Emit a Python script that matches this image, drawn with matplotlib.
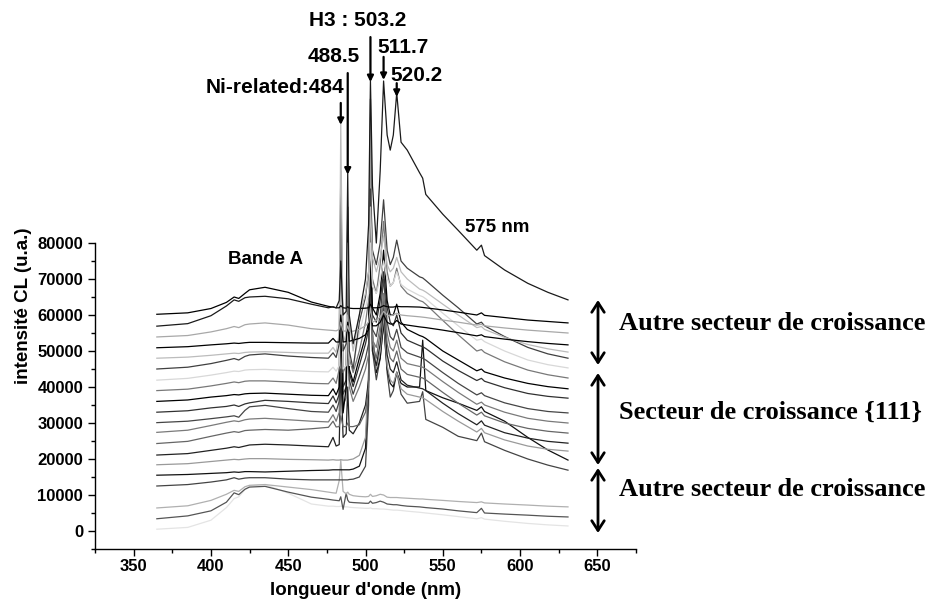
import matplotlib

matplotlib.use("Agg")
import matplotlib.pyplot as plt
from matplotlib.ticker import MultipleLocator

plt.rcParams["font.family"] = ["Liberation Sans", "DejaVu Sans"]
plt.rcParams["font.weight"] = "bold"

# wavelength grid (nm) shared by every spectrum
WAVELENGTH = [
    365, 385, 400, 410, 415, 418, 422, 425, 435, 450,
    465, 476, 479, 481, 483, 484, 485.5, 487.5, 488.5, 489.5,
    492, 496, 500, 502, 503.2, 504.5, 507, 509.5, 511.7, 514,
    516, 518, 520.2, 523, 527, 535, 537, 539, 550, 560,
    572, 575, 577, 590, 605, 618, 631,
]

# CL intensities, in thousands of counts (top to bottom)
SPEC_01 = [
    60.2, 60.6, 61.8, 63.5, 65.0, 64.6, 66.0, 67.0, 67.7, 66.3,
    63.6, 62.4, 62.2, 62.0, 62.0, 62.6, 62.0, 61.9, 62.3, 61.9,
    61.8, 61.8, 61.9, 62.0, 63.0, 62.0, 62.0, 62.1, 62.6, 62.3,
    62.2, 62.2, 62.4, 62.3, 62.3, 62.2, 62.1, 62.0, 61.4, 60.8,
    60.0, 60.6, 59.9, 59.3, 58.6, 58.2, 57.8,
]
SPEC_02 = [
    56.9, 57.6, 59.8, 62.5, 64.2, 63.8, 64.8, 65.0, 65.2, 64.5,
    63.0, 62.0, 62.3, 62.0, 64.0, 75.0, 60.0, 61.0, 99.4, 60.0,
    52.0, 60.0, 70.0, 85.0, 125.0, 96.0, 80.0, 100.0, 125.0, 110.0,
    105.8, 110.0, 121.7, 108.0, 105.8, 99.5, 98.0, 93.5, 88.0, 83.5,
    78.0, 79.4, 76.5, 72.5, 68.8, 66.3, 64.2,
]
SPEC_03 = [
    53.9, 54.3, 55.3, 56.2, 56.8, 56.5, 57.3, 57.5, 57.8, 57.2,
    56.2, 55.8, 55.7, 55.6, 56.0, 58.0, 55.6, 55.5, 57.0, 55.5,
    55.5, 56.0, 57.0, 58.0, 62.0, 58.0, 58.5, 59.5, 61.0, 60.0,
    59.8, 60.0, 60.5, 60.0, 59.8, 59.5, 59.4, 59.3, 58.6, 58.0,
    57.2, 57.4, 57.0, 56.4, 55.8, 55.4, 55.0,
]
SPEC_04 = [
    50.9, 51.2, 51.7, 52.0, 52.2, 52.1, 52.3, 52.4, 52.4, 52.3,
    52.2, 52.2, 53.5, 52.5, 52.5, 60.0, 52.5, 52.6, 58.0, 52.7,
    53.0, 53.5, 54.5, 56.0, 62.0, 57.0, 57.0, 58.0, 60.0, 58.0,
    57.5, 57.5, 58.5, 57.5, 57.2, 56.7, 56.6, 56.5, 55.8, 55.1,
    54.2, 54.5, 54.0, 53.3, 52.6, 52.1, 51.7,
]
SPEC_05 = [
    48.0, 48.3, 48.8, 49.2, 49.4, 49.3, 49.6, 49.7, 49.8, 49.6,
    49.4, 49.4, 51.0, 49.6, 55.0, 113.0, 52.0, 55.0, 80.0, 58.0,
    50.0, 60.0, 66.0, 72.0, 90.0, 76.0, 72.0, 76.0, 82.0, 74.0,
    72.0, 73.0, 76.0, 72.0, 70.0, 67.2, 66.9, 66.4, 63.0, 60.0,
    56.5, 56.8, 56.0, 53.8, 51.8, 50.6, 49.7,
]
SPEC_06 = [
    45.0, 45.5, 46.5, 47.4, 47.9, 47.5, 48.5, 48.9, 49.2, 48.6,
    48.2, 48.0, 49.5, 48.2, 52.0, 100.0, 50.0, 52.0, 75.0, 50.0,
    45.0, 58.0, 65.0, 72.0, 95.0, 78.0, 74.0, 80.0, 92.0, 78.0,
    74.0, 76.0, 80.8, 75.0, 73.0, 70.6, 70.3, 69.6, 65.5, 62.0,
    57.5, 58.0, 57.0, 54.0, 51.0, 49.2, 48.0,
]
SPEC_07 = [
    41.9, 42.4, 43.3, 44.0, 44.4, 44.3, 44.7, 44.8, 44.9, 44.6,
    44.3, 44.2, 45.5, 44.4, 46.0, 70.0, 45.0, 46.0, 60.0, 46.0,
    46.0, 55.0, 62.0, 66.0, 80.0, 68.0, 66.0, 70.0, 75.0, 70.0,
    68.0, 69.0, 72.0, 68.5, 67.2, 65.4, 65.1, 64.5, 60.5, 57.0,
    53.0, 53.3, 52.6, 50.0, 47.5, 46.2, 45.3,
]
SPEC_08 = [
    39.0, 39.4, 40.3, 41.0, 41.4, 41.2, 41.6, 41.7, 41.7, 41.4,
    41.0, 40.9, 42.5, 41.0, 45.0, 95.0, 44.0, 46.0, 70.0, 48.0,
    44.0, 50.0, 58.0, 64.0, 88.0, 70.0, 66.0, 74.0, 86.0, 72.0,
    68.0, 69.0, 73.0, 68.0, 66.0, 64.0, 63.7, 63.0, 58.5, 54.5,
    50.0, 50.4, 49.6, 47.0, 44.7, 43.4, 42.5,
]
SPEC_09 = [
    36.0, 36.4, 37.2, 37.6, 37.9, 37.8, 38.1, 38.2, 38.3, 38.0,
    37.7, 37.6, 39.5, 37.8, 40.0, 60.0, 32.8, 40.0, 90.0, 45.0,
    41.4, 48.0, 54.0, 58.0, 75.0, 62.0, 60.0, 66.0, 78.0, 64.0,
    60.0, 60.0, 63.0, 58.0, 56.0, 54.3, 54.0, 53.5, 50.0, 47.5,
    44.5, 45.0, 44.2, 42.5, 41.0, 40.1, 39.5,
]
SPEC_10 = [
    33.0, 33.4, 34.2, 34.6, 35.0, 34.6, 35.3, 35.6, 36.3, 36.0,
    35.6, 35.4, 37.5, 35.6, 38.0, 85.0, 40.0, 42.0, 65.0, 44.0,
    40.1, 46.0, 52.0, 56.0, 70.0, 60.0, 58.0, 64.0, 72.0, 62.0,
    58.0, 57.0, 60.0, 55.0, 53.0, 51.5, 51.2, 50.7, 47.2, 44.6,
    41.8, 42.4, 41.6, 39.8, 38.2, 37.4, 36.9,
]
SPEC_11 = [
    30.1, 30.5, 31.2, 31.7, 32.0, 31.6, 33.5, 34.5, 34.9, 34.0,
    33.2, 33.0, 35.0, 33.2, 36.0, 80.0, 38.0, 40.0, 60.0, 42.0,
    38.0, 43.0, 48.0, 52.0, 68.0, 56.0, 54.0, 60.0, 70.0, 58.0,
    54.0, 53.0, 56.0, 51.0, 49.5, 48.3, 48.0, 47.5, 44.0, 41.0,
    37.8, 38.4, 37.6, 35.6, 34.0, 33.2, 32.8,
]
SPEC_12 = [
    27.4, 28.0, 29.3, 30.2, 30.6, 30.4, 30.9, 31.1, 31.3, 30.9,
    30.5, 30.3, 32.3, 30.5, 33.0, 70.0, 35.0, 37.0, 55.0, 40.0,
    36.0, 40.0, 45.0, 49.0, 64.0, 53.0, 51.0, 57.0, 66.0, 55.0,
    51.0, 50.0, 53.0, 48.0, 46.5, 45.7, 45.5, 45.0, 41.5, 38.5,
    35.2, 35.8, 35.0, 33.0, 31.3, 30.5, 30.0,
]
SPEC_13 = [
    24.3, 24.9, 26.3, 27.2, 27.6, 27.4, 27.9, 28.0, 28.2, 28.0,
    28.4, 28.8, 30.5, 28.9, 29.0, 32.0, 29.0, 29.0, 30.0, 29.0,
    29.0, 29.5, 33.0, 40.0, 85.0, 52.0, 48.0, 55.0, 64.0, 52.0,
    48.0, 47.0, 50.0, 45.0, 43.5, 42.7, 42.5, 42.0, 38.5, 35.5,
    32.2, 33.0, 32.0, 30.0, 28.5, 27.7, 27.2,
]
SPEC_14 = [
    21.1, 21.5, 22.4, 23.0, 23.4, 23.2, 23.6, 23.9, 24.1, 23.9,
    23.6, 23.4, 26.0, 23.6, 24.0, 45.0, 26.0, 27.0, 40.0, 28.0,
    27.0, 30.0, 35.0, 42.0, 80.0, 50.0, 46.0, 52.0, 62.0, 49.0,
    45.0, 44.0, 47.0, 42.0, 40.5, 39.7, 39.5, 39.0, 35.5, 32.6,
    29.5, 30.6, 29.4, 27.3, 25.8, 24.9, 24.4,
]
SPEC_15 = [
    18.4, 18.7, 19.3, 19.7, 19.9, 19.8, 20.0, 20.1, 20.1, 19.9,
    19.8, 19.7, 19.8, 19.7, 19.7, 19.8, 19.7, 19.7, 19.7, 19.8,
    20.0, 21.0, 26.0, 45.0, 115.0, 55.0, 45.0, 50.0, 60.0, 46.0,
    42.0, 41.0, 44.0, 39.5, 38.0, 37.2, 37.0, 36.5, 33.2, 30.5,
    27.5, 28.5, 27.3, 25.3, 23.6, 22.7, 22.2,
]
SPEC_16 = [
    15.5, 15.7, 16.0, 16.2, 16.4, 16.3, 16.5, 16.5, 16.4, 16.6,
    16.8, 16.9, 17.0, 17.0, 17.0, 17.0, 17.0, 17.0, 17.0, 17.0,
    17.2, 18.0, 23.0, 42.0, 120.0, 55.0, 44.0, 48.0, 58.0, 45.0,
    41.0, 40.0, 44.0, 41.0, 40.0, 40.0, 53.0, 39.0, 37.0, 35.5,
    33.5, 34.5, 33.2, 30.5, 26.0, 22.5, 19.7,
]
SPEC_17 = [
    12.5, 12.9, 13.6, 14.2, 14.8, 14.4, 14.7, 14.8, 14.8, 14.4,
    14.2, 14.2, 14.2, 14.2, 14.2, 14.2, 14.2, 14.2, 14.2, 14.3,
    14.4, 15.0, 18.0, 35.0, 110.0, 50.0, 42.0, 48.0, 58.0, 44.0,
    37.2, 39.0, 44.2, 38.0, 35.5, 36.0, 38.7, 31.0, 28.8, 26.3,
    25.1, 27.2, 24.8, 22.4, 20.0, 18.3, 16.9,
]
SPEC_18 = [
    6.4, 7.0, 8.5, 10.2, 11.3, 11.0, 12.3, 12.7, 12.9, 12.2,
    11.5, 10.8, 10.6, 10.5, 14.0, 19.7, 11.0, 10.3, 10.8, 10.2,
    9.8, 9.6, 9.5, 9.6, 10.2, 9.6, 9.8, 10.2, 10.0, 9.4,
    9.3, 9.3, 9.3, 9.2, 9.1, 8.9, 8.9, 8.8, 8.5, 8.2,
    7.9, 8.1, 7.8, 7.5, 7.2, 6.9, 6.7,
]
SPEC_19 = [
    3.4, 4.2, 5.6, 8.0, 10.6, 10.1, 11.6, 12.2, 12.4, 10.8,
    9.4, 8.8, 8.6, 8.5, 8.4, 9.5, 6.0, 10.5, 8.6, 8.0,
    7.9, 7.8, 7.7, 7.7, 8.3, 7.7, 7.9, 8.3, 8.0, 7.5,
    7.4, 7.3, 7.3, 7.1, 6.9, 6.7, 6.6, 6.5, 6.1, 5.6,
    5.1, 6.3, 5.0, 4.7, 4.4, 4.1, 3.9,
]
SPEC_20 = [
    0.5, 1.0, 3.0, 6.5, 9.0, 9.5, 11.5, 12.5, 12.9, 10.5,
    7.5, 6.9, 6.9, 6.8, 6.8, 6.9, 6.7, 6.7, 6.7, 6.6,
    6.5, 6.4, 6.3, 6.3, 6.4, 6.2, 6.2, 6.1, 6.1, 6.0,
    5.9, 5.8, 5.8, 5.7, 5.5, 5.2, 5.1, 5.0, 4.5, 4.0,
    3.4, 3.7, 3.3, 2.7, 2.1, 1.7, 1.4,
]

SPECTRA = [
    SPEC_01, SPEC_02, SPEC_03, SPEC_04, SPEC_05, SPEC_06, SPEC_07,
    SPEC_08, SPEC_09, SPEC_10, SPEC_11, SPEC_12, SPEC_13, SPEC_14,
    SPEC_15, SPEC_16, SPEC_17, SPEC_18, SPEC_19, SPEC_20,
]
GREYS = [
    "#000000", "#1a1a1a", "#a8a8a8", "#000000", "#bcbcbc", "#404040", "#d8d8d8",
    "#787878", "#000000", "#303030", "#454545", "#7a7a7a", "#666666", "#222222",
    "#9a9a9a", "#111111", "#444444", "#b0b0b0", "#555555", "#e4e4e4",
]

# peak labels: (text, text x, text y, arrow x, arrow top, arrow tip) in nm / counts
PEAK_LABELS = [
    ("H3 : 503.2", 494.8, 141900, 503.2, 137200, 124700),
    ("488.5", 479.3, 131700, 488.5, 127200, 99000),
    ("Ni-related:484", 441.1, 123100, 484.0, 118900, 112800),
    ("511.7", 524.5, 134400, 511.7, 131700, 125300),
    ("520.2", 533.0, 126400, 520.2, 124400, 120600),
]

SECTORS = ["Autre secteur de croissance", "Secteur de croissance {111}", "Autre secteur de croissance"]


def main() -> None:
    W, H = 935, 614
    fig = plt.figure(figsize=(W / 100, H / 100), dpi=100)
    ax = fig.add_axes([95 / W, (H - 549) / H, 541 / W, 486 / H])

    # draw from the bottom spectrum up, the strong H3 spectrum last
    order = list(range(len(SPECTRA) - 1, -1, -1))
    order.remove(1)
    order.append(1)
    for i in order:
        ax.plot(WAVELENGTH, [v * 1000 for v in SPECTRA[i]], color=GREYS[i], linewidth=0.9)

    ax.set_xlim(325, 675)
    ax.set_ylim(-5000, 130000)
    ax.spines["top"].set_visible(False)
    ax.spines["right"].set_visible(False)
    ax.spines["left"].set_bounds(-5000, 80000)
    for side in ("left", "bottom"):
        ax.spines[side].set_linewidth(1.0)

    ax.set_xticks(range(350, 651, 50))
    ax.xaxis.set_minor_locator(MultipleLocator(25))
    ax.set_yticks(range(0, 80001, 10000))
    ax.set_yticks(range(-5000, 80001, 5000), minor=True)
    ax.tick_params(which="major", direction="out", length=5, width=1, labelsize=12)
    ax.tick_params(which="minor", direction="out", length=3, width=1)
    ax.tick_params(axis="x", which="major", pad=2)
    for lab in ax.get_xticklabels() + ax.get_yticklabels():
        lab.set_fontweight("bold")

    ax.set_xlabel("longueur d'onde (nm)", fontsize=13.5, fontweight="bold", labelpad=6)
    ax.set_ylabel("intensité CL (u.a.)", fontsize=13.5, fontweight="bold", labelpad=4)

    for text, tx, ty, px, top, tip in PEAK_LABELS:
        ax.text(tx, ty, text, fontsize=15, fontweight="bold", ha="center", va="center", clip_on=False)
        ax.annotate(
            "", xy=(px, tip), xytext=(px, top),
            arrowprops=dict(arrowstyle="-|>", color="black", lw=1.6, mutation_scale=9,
                            shrinkA=0, shrinkB=0),
            annotation_clip=False,
        )

    ax.text(435.3, 75300, "Bande A", fontsize=13.5, fontweight="bold", ha="center", va="center")
    ax.text(585.3, 84200, "575 nm", fontsize=13.5, fontweight="bold", ha="center", va="center")

    # growth-sector brackets on the right
    spans = [(300, 365, 323), (373, 465, 412), (468, 533, 490)]
    for (y0, y1, yt), label in zip(spans, SECTORS):
        ax.annotate(
            "", xy=(598 / W, 1 - y1 / H), xytext=(598 / W, 1 - y0 / H),
            xycoords="figure fraction", textcoords="figure fraction",
            arrowprops=dict(arrowstyle="<->,head_length=0.7,head_width=0.45", color="black",
                            lw=2.0, shrinkA=0, shrinkB=0),
        )
        fig.text(619 / W, 1 - yt / H, label, fontsize=19, fontweight="bold",
                 family=["Liberation Serif", "DejaVu Serif"], ha="left", va="center")

    fig.savefig("out.png", dpi=100)
    plt.close(fig)


if __name__ == "__main__":
    main()
